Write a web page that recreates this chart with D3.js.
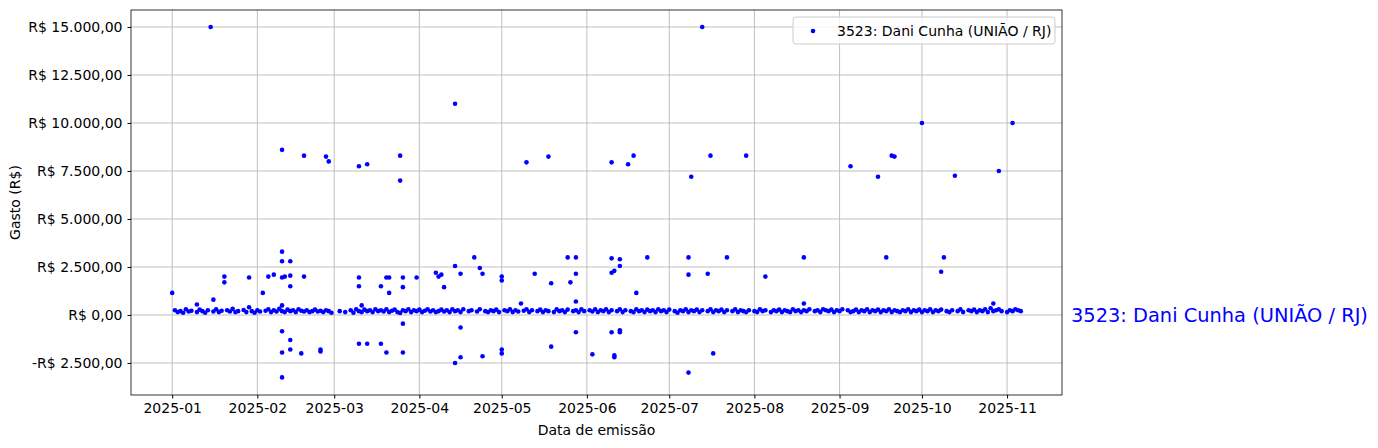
<!DOCTYPE html>
<html>
<head>
<meta charset="utf-8">
<script src="https://cdn.jsdelivr.net/npm/d3@7"></script>
<style>
  body { margin: 0; background: #fff; }
  text { font-family: "DejaVu Sans", sans-serif; }
</style>
</head>
<body>
<script>
// Deputy expense points: [days since 2025-01-01, value in R$]
const seriesName = '3523: Dani Cunha (UNIÃO / RJ)';

const outliers = [
  [0, 1150], [14, 15000], [19, 2000], [19, 1700], [15, 800], [9, 550], [28, 1950], [33, 1150],
  [35, 2000], [37, 2100], [40, 8600], [40, 3300], [40, 2800], [40, 1950], [41, 2000], [43, 2050],
  [43, 2800], [43, 1500], [40, 500], [40, -850], [40, -1950], [43, -1300], [43, -1800], [40, -3250],
  [48, 8300], [48, 2000], [47, -2000], [54, -1900], [54, -1800], [56, 8250], [57, 8000],
  [68, 7750], [68, 1950], [68, 1500], [68, -1500], [71, -1500], [71, 7850], [69, 500],
  [76, 1500], [76, -1500], [78, 1950], [79, 1950], [79, 1150], [78, -1950], [83, 8300], [83, 7000],
  [84, 1450], [84, 1950], [84, -450], [84, -1950], [89, 1950], [96, 2200], [97, 2000], [99, 1450],
  [98, 2100], [103, 11000], [103, 2550], [103, -2500], [105, 2150], [105, -2200], [105, -650],
  [110, 3000], [112, 2450], [113, 2150], [113, -2150], [120, 2000], [120, 1800], [120, -1800],
  [120, -2000], [127, 600], [129, 7950], [132, 2150], [137, 8250], [138, 1650], [138, -1650],
  [144, 3000], [145, 1700], [147, 3000], [147, 2150], [147, 700], [147, -900], [153, -2050],
  [160, 7950], [160, 2950], [160, 2200], [161, 2300], [161, -2200], [161, -2100], [160, -900],
  [163, 2900], [163, 2550], [163, -900], [163, -800], [166, 7850], [168, 8300], [169, 1150],
  [173, 3000], [188, 3000], [188, 2100], [188, -3000], [189, 7200], [193, 15000], [195, 2150],
  [196, 8300], [197, -2000], [202, 3000], [209, 8300], [216, 2000], [230, 3000], [230, 600],
  [247, 7750], [257, 7200], [260, 3000], [262, 8300], [263, 8250], [273, 10000], [280, 2250],
  [281, 3000], [285, 7250], [299, 600], [301, 7500], [306, 10000]
];

const band = [
  [1, 250], [2, 150], [3, 200], [4, 120], [5, 300], [6, 180], [7, 220], [9, 150], [10, 280],
  [11, 200], [12, 120], [13, 250], [15, 180], [16, 300], [17, 150], [18, 220], [20, 250], [21, 180],
  [22, 320], [23, 150], [24, 200], [26, 260], [27, 150], [28, 400], [29, 200], [30, 120], [31, 250],
  [32, 180], [34, 220], [35, 300], [36, 150], [37, 250], [38, 180], [39, 320], [40, 200], [41, 150],
  [42, 280], [43, 200], [44, 250], [45, 150], [46, 300], [47, 220], [48, 180], [49, 250], [50, 150],
  [51, 200], [52, 280], [53, 180], [54, 220], [55, 150], [56, 250], [57, 200], [58, 120], [61, 200],
  [63, 150], [65, 250], [66, 120], [67, 300], [68, 200], [69, 150], [70, 280], [71, 200], [72, 250],
  [73, 150], [74, 300], [75, 200], [76, 250], [77, 180], [78, 300], [79, 150], [80, 220], [81, 280],
  [82, 150], [83, 100], [84, 250], [85, 200], [86, 300], [87, 150], [88, 250], [89, 200], [90, 280],
  [91, 150], [92, 220], [93, 300], [94, 180], [95, 250], [96, 150], [97, 200], [98, 280], [99, 180],
  [100, 250], [101, 150], [102, 300], [103, 200], [104, 250], [105, 150], [106, 300], [108, 200],
  [109, 250], [111, 180], [112, 300], [114, 200], [115, 150], [116, 250], [117, 200], [118, 280],
  [119, 150], [121, 250], [122, 200], [123, 300], [124, 150], [125, 250], [126, 180], [128, 220],
  [129, 300], [130, 150], [131, 250], [133, 200], [134, 280], [135, 150], [136, 250], [137, 200],
  [139, 150], [140, 300], [141, 200], [142, 250], [143, 150], [144, 280], [146, 200], [147, 250],
  [148, 150], [149, 300], [150, 200], [152, 250], [153, 180], [154, 300], [155, 150], [156, 250],
  [157, 200], [158, 300], [159, 150], [160, 250], [162, 200], [163, 300], [164, 150], [165, 250],
  [167, 200], [168, 150], [169, 300], [170, 200], [171, 250], [172, 150], [173, 280], [174, 200],
  [175, 250], [176, 150], [177, 300], [178, 200], [179, 250], [180, 150], [181, 280], [183, 200],
  [184, 120], [185, 250], [186, 200], [187, 300], [188, 150], [189, 250], [190, 200], [191, 280],
  [192, 150], [193, 250], [195, 200], [196, 300], [197, 150], [198, 250], [199, 200], [200, 280],
  [201, 150], [202, 250], [204, 200], [205, 300], [206, 150], [207, 250], [208, 200], [209, 150],
  [210, 250], [212, 200], [213, 150], [214, 300], [215, 200], [216, 250], [218, 150], [219, 250],
  [220, 200], [221, 280], [222, 150], [223, 250], [224, 200], [225, 150], [226, 300], [227, 200],
  [228, 250], [229, 150], [230, 250], [231, 200], [232, 300], [234, 200], [235, 250], [236, 150],
  [237, 300], [238, 250], [239, 200], [240, 280], [241, 150], [242, 250], [243, 200], [244, 300],
  [246, 250], [247, 150], [248, 200], [249, 280], [250, 150], [251, 250], [252, 200], [253, 300],
  [254, 150], [255, 250], [256, 200], [257, 280], [258, 150], [259, 250], [260, 200], [261, 300],
  [262, 150], [263, 250], [264, 200], [265, 150], [266, 250], [267, 200], [268, 300], [269, 150],
  [270, 250], [271, 200], [272, 280], [273, 150], [274, 250], [275, 200], [276, 300], [277, 150],
  [278, 250], [279, 200], [280, 280], [282, 200], [283, 150], [284, 250], [286, 200], [287, 300],
  [288, 150], [290, 250], [291, 200], [292, 280], [293, 150], [294, 250], [295, 200], [296, 300],
  [297, 150], [298, 350], [299, 200], [300, 250], [301, 300], [302, 200], [304, 150], [305, 250],
  [306, 200], [307, 300], [308, 250], [309, 200]
];

const yTicks = [-2500, 0, 2500, 5000, 7500, 10000, 12500, 15000];
const xTickLabels = ['2025-01', '2025-02', '2025-03', '2025-04', '2025-05', '2025-06',
  '2025-07', '2025-08', '2025-09', '2025-10', '2025-11'];

const W = 1378;
const H = 448;
const margin = { left: 131, top: 10, right: 316, bottom: 53 };

const toDate = (d) => new Date(2025, 0, 1 + d);
const points = outliers.concat(band).map(([d, v]) => ({ date: toDate(d), value: v }));

const x = d3.scaleTime()
  .domain([new Date(2024, 11, 17), new Date(2025, 10, 21)])
  .range([margin.left, W - margin.right]);
const y = d3.scaleLinear()
  .domain([-4167, 15885])
  .range([H - margin.bottom, margin.top]);

const brl = (v) => {
  const s = Math.abs(v).toFixed(2).replace('.', ',').replace(/\B(?=(\d{3})+(?!\d))/g, '.');
  return `${v < 0 ? '-' : ''}R$ ${s}`;
};

const svg = d3.select('body').append('svg')
  .attr('width', W)
  .attr('height', H);

const xTickDates = xTickLabels.map((t) => d3.timeParse('%Y-%m')(t));

// grid
svg.append('g').selectAll('line.vx')
  .data(xTickDates).enter().append('line')
  .attr('x1', d => x(d)).attr('x2', d => x(d))
  .attr('y1', margin.top).attr('y2', H - margin.bottom)
  .attr('stroke', '#b0b0b0').attr('stroke-width', 0.8);
svg.append('g').selectAll('line.hy')
  .data(yTicks).enter().append('line')
  .attr('x1', margin.left).attr('x2', W - margin.right)
  .attr('y1', d => y(d)).attr('y2', d => y(d))
  .attr('stroke', '#b0b0b0').attr('stroke-width', 0.8);

// points
svg.append('g').selectAll('circle')
  .data(points).enter().append('circle')
  .attr('cx', d => x(d.date))
  .attr('cy', d => y(d.value))
  .attr('r', 2.3)
  .attr('fill', 'blue');

// axes
const xAxis = svg.append('g')
  .attr('transform', `translate(0,${H - margin.bottom})`)
  .call(d3.axisBottom(x).tickValues(xTickDates).tickFormat(d3.timeFormat('%Y-%m'))
    .tickSizeOuter(0).tickSize(3.5).tickPadding(5));
const yAxis = svg.append('g')
  .attr('transform', `translate(${margin.left},0)`)
  .call(d3.axisLeft(y).tickValues(yTicks).tickFormat(brl)
    .tickSizeOuter(0).tickSize(3.5).tickPadding(5));
[xAxis, yAxis].forEach((a) => {
  a.selectAll('text').style('font-size', '14px').attr('fill', '#000');
  a.select('.domain').remove();
});

svg.append('rect')
  .attr('x', margin.left).attr('y', margin.top)
  .attr('width', W - margin.right - margin.left)
  .attr('height', H - margin.bottom - margin.top)
  .attr('fill', 'none').attr('stroke', '#000').attr('stroke-width', 0.8);

svg.append('text')
  .attr('x', (margin.left + W - margin.right) / 2).attr('y', 435)
  .attr('text-anchor', 'middle').style('font-size', '14px')
  .text('Data de emissão');
svg.append('text')
  .attr('transform', `translate(20,${(margin.top + H - margin.bottom) / 2}) rotate(-90)`)
  .attr('text-anchor', 'middle').style('font-size', '14px')
  .text('Gasto (R$)');

// legend
const lg = svg.append('g');
lg.append('rect')
  .attr('x', 793).attr('y', 17).attr('width', 262).attr('height', 27).attr('rx', 3)
  .attr('fill', '#fff').attr('fill-opacity', 0.8).attr('stroke', '#ccc');
lg.append('circle').attr('cx', 813).attr('cy', 31).attr('r', 2.3).attr('fill', 'blue');
lg.append('text').attr('x', 837).attr('y', 36).style('font-size', '14px').text(seriesName);

// right-side label
svg.append('text')
  .attr('x', 1071).attr('y', y(0) + 7)
  .style('font-size', '19.4px').attr('fill', 'blue')
  .text(seriesName);
</script>
</body>
</html>
